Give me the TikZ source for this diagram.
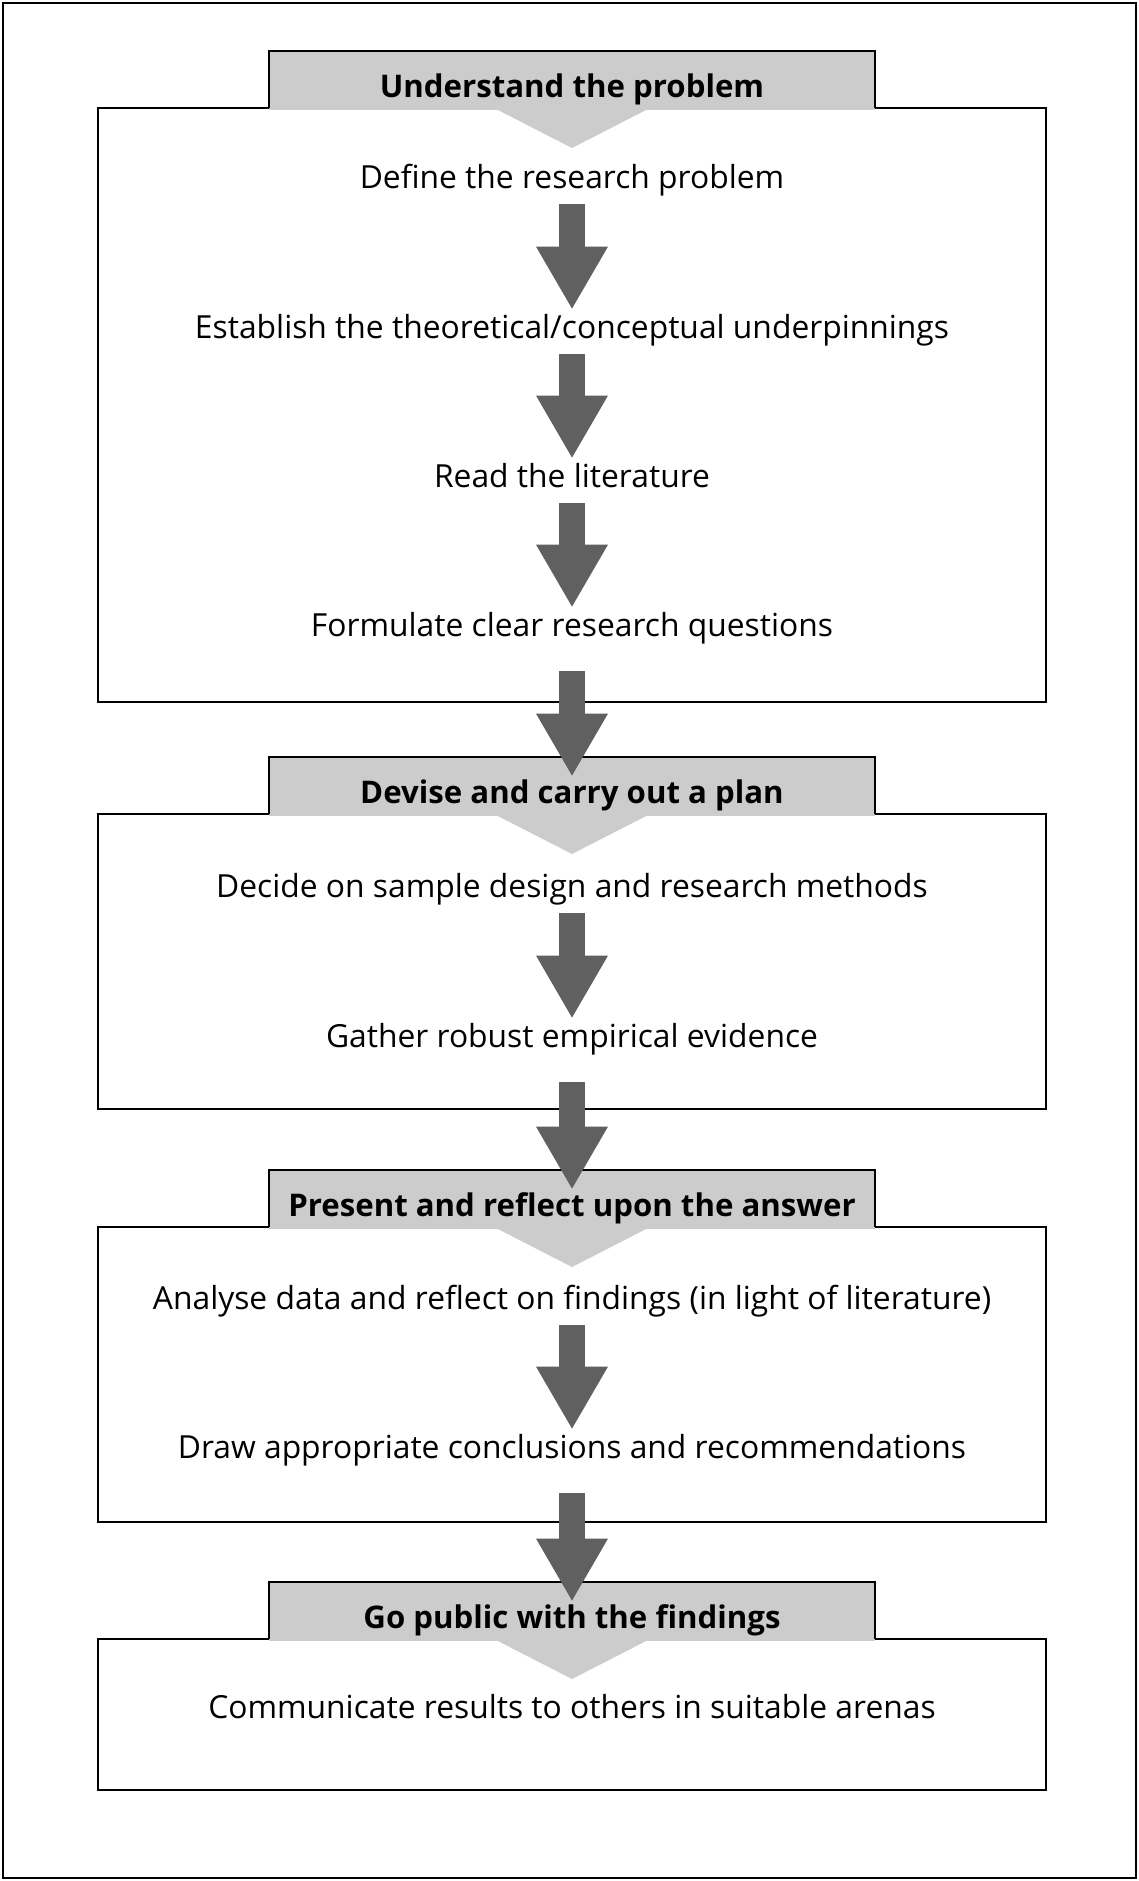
\documentclass[tikz,border=0pt]{standalone}
\usepackage{fontspec}
\setmainfont{Open Sans}
\usetikzlibrary{arrows.meta}
\definecolor{tabgrey}{RGB}{204,204,204}
\definecolor{arrowgrey}{RGB}{96,96,96}
\tikzset{
  txt/.style={inner sep=0,text height=11pt,text depth=3pt,font=\fontsize{15.9}{19}\selectfont},
  head/.style={txt,font=\fontsize{15.6}{19}\selectfont\bfseries},
  body/.style={draw,line width=1.25pt,minimum width=474pt,inner sep=0},
  tab/.style={line width=1.25pt},
  bigarrow/.style={draw=arrowgrey,line width=13pt,-{Triangle[width=36pt,length=31pt,line width=0pt]},shorten <=5pt,shorten >=3.5pt},
  linkarrow/.style={bigarrow,shorten <=14.5pt,shorten >=2.5pt}
}
\begin{document}
\begin{tikzpicture}[x=0.5pt,y=-0.5pt]
  \useasboundingbox (0,0) rectangle (1139,1881);
  \draw[line width=1pt] (3,3) rectangle (1136,1878);

  \node (box1) at (572,405) [body,minimum height=297pt]{};
  \node (box2) at (572,961.5) [body,minimum height=147.5pt]{};
  \node (box3) at (572,1374.5) [body,minimum height=147.5pt]{};
  \node (box4) at (572,1714.5) [body,minimum height=75.5pt]{};

  \foreach \y in {108,814,1227,1639}{
    \fill[tabgrey] (269,{\y-57}) rectangle (875,{\y+2});
    \draw[tab] (269,\y) |- (875,{\y-57}) -- (875,\y);
    \fill[tabgrey] (494,\y) -- (650,\y) -- (572,{\y+40}) -- cycle;
  }

  \node (understand) at (572,89) [head]{Understand the problem};
  \node (define) at (572,180) [txt]{Define the research problem};
  \node (establish) at (572,330) [txt]{Establish the theoretical/conceptual underpinnings};
  \node (readlit) at (572,479) [txt]{Read the literature};
  \node (formulate) at (572,628) [txt]{Formulate clear research questions};

  \node (devise) at (572,795) [head]{Devise and carry out a plan};
  \node (decide) at (572,889) [txt]{Decide on sample design and research methods};
  \node (gather) at (572,1039) [txt]{Gather robust empirical evidence};

  \node (present) at (572,1208) [head]{Present and reflect upon the answer};
  \node (analyse) at (572,1301) [txt]{Analyse data and reflect on findings (in light of literature)};
  \node (conclude) at (572,1450) [txt]{Draw appropriate conclusions and recommendations};

  \node (gopublic) at (572,1620) [head]{Go public with the findings};
  \node (communicate) at (572,1710) [txt]{Communicate results to others in suitable arenas};

  \draw[bigarrow] (define) -- (establish);
  \draw[bigarrow] (establish) -- (readlit);
  \draw[bigarrow] (readlit) -- (formulate);
  \draw[linkarrow] (formulate) -- (devise);
  \draw[bigarrow] (decide) -- (gather);
  \draw[linkarrow] (gather) -- (present);
  \draw[bigarrow] (analyse) -- (conclude);
  \draw[linkarrow] (conclude) -- (gopublic);

\end{tikzpicture}
\end{document}
